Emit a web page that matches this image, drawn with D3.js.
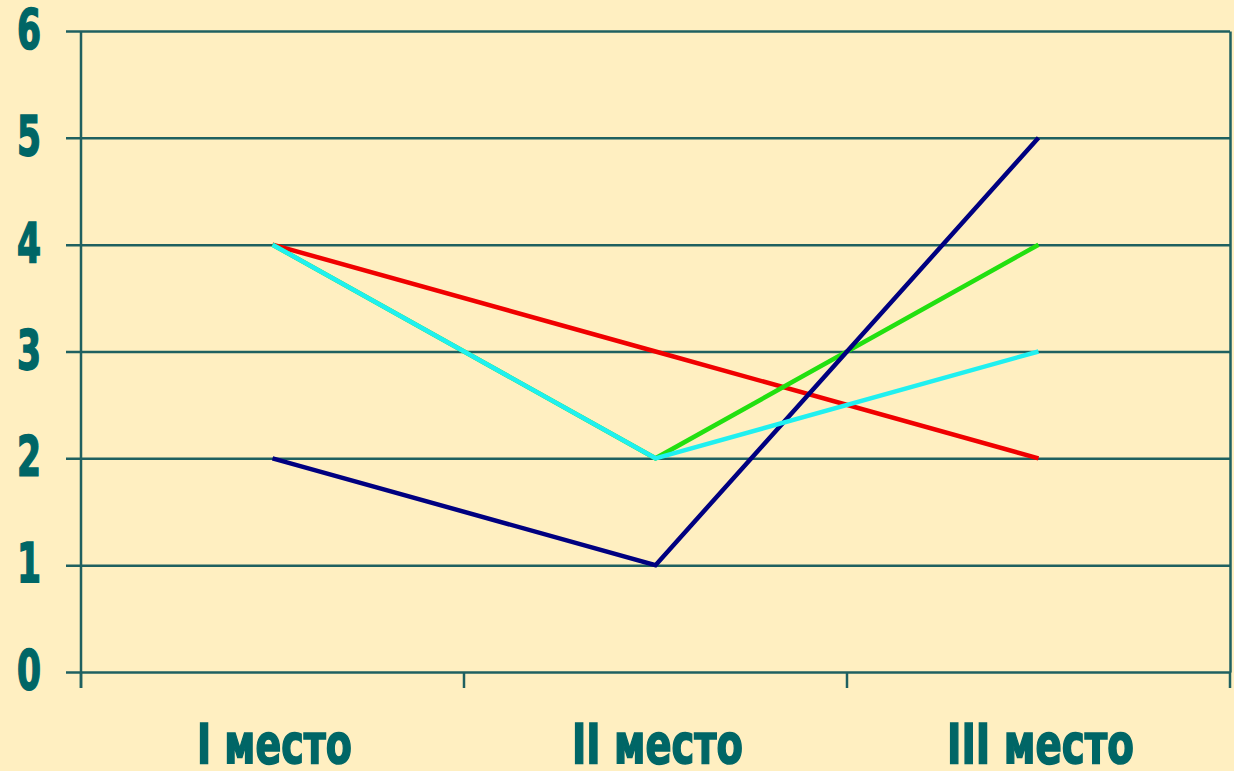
<!DOCTYPE html>
<html>
<head>
<meta charset="utf-8">
<script src="https://cdn.jsdelivr.net/npm/d3@7"></script>
<style>
  html, body { margin: 0; padding: 0; background: #FFEFC1; }
  svg { display: block; }
  .lbl { font-family: "Liberation Sans Narrow", "DejaVu Sans Condensed", sans-serif; font-weight: bold; fill: #006666; stroke: #006666; stroke-width: 1.6; }
</style>
</head>
<body>
<svg id="chart" width="1234" height="771"></svg>
<script>
const categories = ["I место", "II место", "III место"];
const yTicks = [0, 1, 2, 3, 4, 5, 6];
// drawing order matters: cyan is on top of green on the first segment
const seriesNames = ["red", "green", "navy", "cyan"];
const redValues = [4, 3, 2];
const greenValues = [4, 2, 4];
const navyValues = [2, 1, 5];
const cyanValues = [4, 2, 3];

const colors = { red: "#F00000", green: "#22E010", navy: "#000080", cyan: "#20F0F0" };
const valuesByName = { red: redValues, green: greenValues, navy: navyValues, cyan: cyanValues };

const plotLeft = 81, plotRight = 1230, plotTop = 31, plotBottom = 672;
const axisColor = "#1F6060";

const svg = d3.select("#chart");
const x = d3.scaleBand().domain(categories).range([plotLeft, plotRight]).padding(0);
const y = d3.scaleLinear().domain([0, 6]).range([plotBottom, plotTop]);

// gridlines + right border via an axis placed on the right edge
const grid = svg.append("g").attr("transform", `translate(${plotRight},0)`)
    .call(d3.axisLeft(y).tickValues(yTicks).tickSizeInner(plotRight - 66).tickSizeOuter(0).tickFormat(""));
grid.selectAll("line").attr("stroke", axisColor).attr("stroke-width", 2.5);
grid.select(".domain").attr("stroke", axisColor).attr("stroke-width", 2.5);

// left axis line
svg.append("line").attr("x1", plotLeft).attr("x2", plotLeft).attr("y1", plotTop).attr("y2", plotBottom + 16)
    .attr("stroke", axisColor).attr("stroke-width", 2.5);

// category boundary ticks
const edges = categories.map(c => x(c)).concat([x(categories[categories.length - 1]) + x.bandwidth()]);
svg.append("g").selectAll("line").data(edges).enter().append("line")
    .attr("x1", d => d).attr("x2", d => d)
    .attr("y1", plotBottom).attr("y2", plotBottom + 16)
    .attr("stroke", axisColor).attr("stroke-width", 2.5);

// y labels
svg.append("g").selectAll("text").data(yTicks).enter().append("text")
    .attr("class", "lbl")
    .attr("x", 29)
    .attr("y", d => y(d) + 17)
    .attr("text-anchor", "middle")
    .attr("font-size", 55)
    .attr("textLength", 24).attr("lengthAdjust", "spacingAndGlyphs")
    .text(d => d);

// x labels
const labelWidths = [155, 171, 187];
svg.append("g").selectAll("text").data(categories).enter().append("text")
    .attr("class", "lbl")
    .attr("x", (d, i) => x(d) + x.bandwidth() / 2 + 2 - labelWidths[i] / 2)
    .attr("y", 763)
    .attr("font-size", 55)
    .attr("textLength", (d, i) => labelWidths[i]).attr("lengthAdjust", "spacingAndGlyphs")
    .text(d => d);

// series lines
const line = d3.line().x((d, i) => x(categories[i]) + x.bandwidth() / 2).y(d => y(d));
svg.append("g").selectAll("path").data(seriesNames).enter().append("path")
    .attr("d", d => line(valuesByName[d]))
    .attr("fill", "none")
    .attr("stroke", d => colors[d])
    .attr("stroke-width", 4.5)
    .attr("stroke-linejoin", "miter");
</script>
</body>
</html>
